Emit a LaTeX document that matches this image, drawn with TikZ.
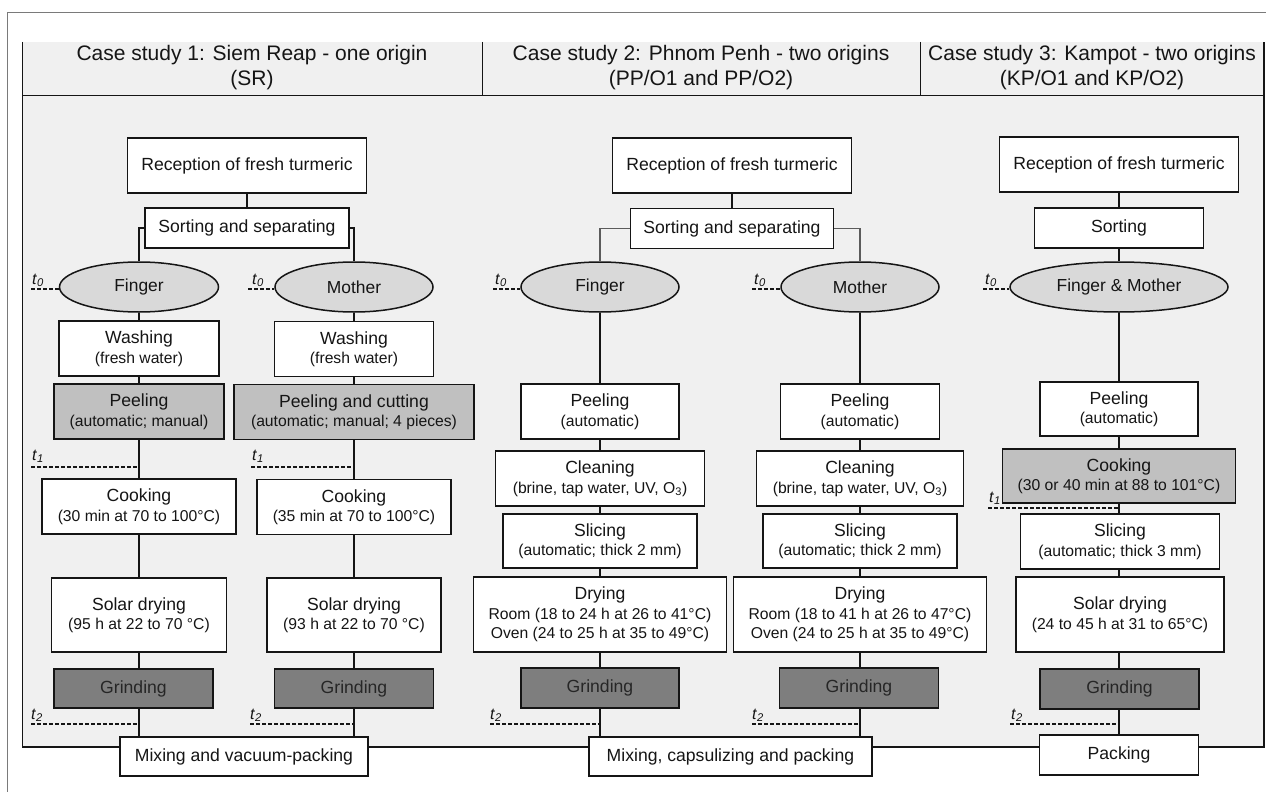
\documentclass[tikz,border=0pt]{standalone}
\usepackage{fontspec}
\setmainfont{Liberation Sans}
\usetikzlibrary{shapes.geometric}
\definecolor{panel}{HTML}{F0F0F0}
\definecolor{ellfill}{HTML}{D9D9D9}
\definecolor{lgray}{HTML}{C0C0C0}
\definecolor{dgray}{HTML}{7E7E7E}
\definecolor{ink}{HTML}{151515}
\definecolor{framegray}{HTML}{7A7A7A}
\newcommand\subt[1]{{\fontsize{15.7}{18}\selectfont #1}}
\newcommand\tlbl[1]{\textit{t}\textsubscript{\textit{#1}}}
\begin{document}
\begin{tikzpicture}[x=1pt,y=-1pt,
  box/.style={draw=ink, line width=1.5pt, fill=white, inner sep=0pt, align=center, text=ink, font=\fontsize{17.6}{19.5}\selectfont},
  gbox/.style={box, fill=lgray},
  grind/.style={box, fill=dgray, text=black!85},
  oval/.style={ellipse, draw=ink, line width=1.5pt, fill=ellfill, inner sep=0pt, text=ink, font=\fontsize{17.4}{19}\selectfont, minimum height=50pt},
  conn/.style={draw=ink, line width=1.4pt},
  tdash/.style={draw=ink, line width=1.2pt, dash pattern=on 4pt off 2pt},
  tlab/.style={inner sep=0pt, text=ink, anchor=base west, font=\fontsize{16}{16}\selectfont},
  head/.style={inner sep=0pt, align=center, text=ink, font=\fontsize{21}{25}\selectfont},
  sz/.style 2 args={minimum width=#1pt, minimum height=#2pt},
]
\useasboundingbox (0,0) rectangle (1266,792);
% outer frame
\draw[framegray, line width=1pt] (7,792) -- (7,13) -- (1266,13);
% panel
\fill[panel] (22,42) rectangle (1264,747);
\draw[ink, line width=1pt] (22,42) -- (22,747);
\draw[ink, line width=2pt] (22,747) -- (1264,747) -- (1264,42);
\draw[ink, line width=1pt] (22,95) -- (1264,95);
\draw[ink, line width=1pt] (482,42) -- (482,95);
\draw[ink, line width=1pt] (920,42) -- (920,95);
% headers
\node[head] (h1) at (252,68) {Case study 1: Siem Reap - one origin\\(SR)};
\node[head] (h2) at (701,68) {Case study 2: Phnom Penh - two origins\\(PP/O1 and PP/O2)};
\node[head] (h3) at (1092,68) {Case study 3: Kampot - two origins\\(KP/O1 and KP/O2)};

% ---------- Column 1 ----------
\node[box, sz={239}{55}] (r1) at (247,165.5) {Reception of fresh turmeric};
\node[box, sz={204}{40}] (s1) at (247,228) {Sorting and separating};
\node[oval, minimum width=159pt] (f1) at (139,287) {Finger};
\node[oval, minimum width=158pt] (m1) at (354,287) {Mother};
\node[box, sz={160}{55}] (w1a) at (139,348.5) {Washing\\\subt{(fresh water)}};
\node[box, sz={159}{55}] (w1b) at (354,349) {Washing\\\subt{(fresh water)}};
\node[gbox, sz={170}{55}] (p1a) at (139,411.5) {Peeling\\\subt{(automatic; manual)}};
\node[gbox, sz={240}{55}] (p1b) at (354,412) {Peeling and cutting\\\subt{(automatic; manual; 4 pieces)}};
\node[box, sz={194}{55}] (c1a) at (139,506.5) {Cooking\\\subt{(30 min at 70 to 100°C)}};
\node[box, sz={194}{55}] (c1b) at (354,507) {Cooking\\\subt{(35 min at 70 to 100°C)}};
\node[box, sz={175}{74}] (sd1a) at (139,615) {Solar drying\\\subt{(95 h at 22 to 70 °C)}};
\node[box, sz={174}{74}] (sd1b) at (354,615) {Solar drying\\\subt{(93 h at 22 to 70 °C)}};
\node[grind, sz={159}{39}] (g1a) at (133.5,688.5) {Grinding};
\node[grind, sz={159}{39}] (g1b) at (354,688.5) {Grinding};
\node[box, sz={248}{39}] (mix1) at (244,756.5) {Mixing and vacuum-packing};

\draw[conn] (r1) -- (s1);
\draw[conn] (s1.west) -| (f1.north);
\draw[conn] (s1.east) -| (m1.north);
\draw[conn] (f1) -- (w1a);
\draw[conn] (w1a) -- (p1a);
\draw[conn] (p1a) -- (c1a);
\draw[conn] (c1a) -- (sd1a);
\draw[conn] (sd1a.south) -- (sd1a.south |- g1a.north);
\draw[conn] (g1a.south -| sd1a.south) -- (mix1.north -| sd1a.south);
\draw[conn] (m1) -- (w1b);
\draw[conn] (w1b) -- (p1b);
\draw[conn] (p1b) -- (c1b);
\draw[conn] (c1b) -- (sd1b);
\draw[conn] (sd1b) -- (g1b);
\draw[conn] (g1b.south) -- (mix1.north -| g1b.south);

% time marks col 1
\coordinate (t0a) at (31,289);
\coordinate (t0b) at (248,289);
\coordinate (t1a) at (31,467);
\coordinate (t1b) at (251,467);
\coordinate (t2a) at (31,724);
\coordinate (t2b) at (250,724);
\draw[tdash] (t0a) -- (t0a -| f1.west);
\draw[tdash] (t0b) -- (t0b -| m1.west);
\draw[tdash] (t1a) -- (t1a -| c1a.north);
\draw[tdash] (t1b) -- (t1b -| c1b.north);
\draw[tdash] (t2a) -- (t2a -| sd1a.south);
\draw[tdash] (t2b) -- (t2b -| g1b.south);
\node[tlab] (lt0a) at (32,284) {\tlbl{0}};
\node[tlab] (lt0b) at (252,284) {\tlbl{0}};
\node[tlab] (lt1a) at (32,460) {\tlbl{1}};
\node[tlab] (lt1b) at (252,460) {\tlbl{1}};
\node[tlab] (lt2a) at (31,719) {\tlbl{2}};
\node[tlab] (lt2b) at (250,719) {\tlbl{2}};

% ---------- Column 2 ----------
\node[box, sz={239}{55}] (r2) at (732,165.5) {Reception of fresh turmeric};
\node[box, sz={203}{40}] (s2) at (732,228.5) {Sorting and separating};
\node[oval, minimum width=158pt] (f2) at (600,287) {Finger};
\node[oval, minimum width=158pt] (m2) at (860,287) {Mother};
\node[box, sz={158}{55}] (pe2a) at (600,411.5) {Peeling\\\subt{(automatic)}};
\node[box, sz={159}{55}] (pe2b) at (860,411.5) {Peeling\\\subt{(automatic)}};
\node[box, sz={209}{55}] (cl2a) at (600,478.5) {Cleaning\\\subt{(brine, tap water, UV, O\textsubscript{3})}};
\node[box, sz={207}{55}] (cl2b) at (860,478.5) {Cleaning\\\subt{(brine, tap water, UV, O\textsubscript{3})}};
\node[box, sz={194}{54}] (sl2a) at (600,541) {Slicing\\\subt{(automatic; thick 2 mm)}};
\node[box, sz={194}{54}] (sl2b) at (860,541) {Slicing\\\subt{(automatic; thick 2 mm)}};
\node[box, sz={253}{75}] (d2a) at (600,614.5) {Drying\\\subt{Room (18 to 24 h at 26 to 41°C)}\\\subt{Oven (24 to 25 h at 35 to 49°C)}};
\node[box, sz={253}{75}] (d2b) at (860,614.5) {Drying\\\subt{Room (18 to 41 h at 26 to 47°C)}\\\subt{Oven (24 to 25 h at 35 to 49°C)}};
\node[grind, sz={158}{40}] (g2a) at (600,688) {Grinding};
\node[grind, sz={159}{40}] (g2b) at (859,688) {Grinding};
\node[box, sz={283}{39}] (mix2) at (730.5,756.5) {Mixing, capsulizing and packing};

\draw[conn] (r2) -- (s2);
\draw[draw=ink!70, line width=1.1pt] (s2.west) -| (f2.north);
\draw[draw=ink!70, line width=1.1pt] (s2.east) -| (m2.north);
\draw[conn] (f2) -- (pe2a);
\draw[conn] (pe2a) -- (cl2a);
\draw[conn] (cl2a) -- (sl2a);
\draw[conn] (sl2a) -- (d2a);
\draw[conn] (d2a) -- (g2a);
\draw[conn] (g2a.south) -- (mix2.north -| g2a.south);
\draw[conn] (m2) -- (pe2b);
\draw[conn] (pe2b) -- (cl2b);
\draw[conn] (cl2b) -- (sl2b);
\draw[conn] (sl2b) -- (d2b);
\draw[conn] (d2b.south) -- (d2b.south |- g2b.north);
\draw[conn] (g2b.south -| d2b.south) -- (mix2.north -| d2b.south);

\coordinate (t0c) at (493,289);
\coordinate (t0d) at (752,289);
\coordinate (t2c) at (490,724);
\coordinate (t2d) at (752,724);
\draw[tdash] (t0c) -- (t0c -| f2.west);
\draw[tdash] (t0d) -- (t0d -| m2.west);
\draw[tdash] (t2c) -- (t2c -| g2a.south);
\draw[tdash] (t2d) -- (t2d -| d2b.south);
\node[tlab] (lt0c) at (495,284) {\tlbl{0}};
\node[tlab] (lt0d) at (754,284) {\tlbl{0}};
\node[tlab] (lt2c) at (490,719) {\tlbl{2}};
\node[tlab] (lt2d) at (752,719) {\tlbl{2}};

% ---------- Column 3 ----------
\node[box, sz={239}{55}] (r3) at (1119,164.5) {Reception of fresh turmeric};
\node[box, sz={169}{40}] (s3) at (1119,228) {Sorting};
\node[oval, minimum width=218pt] (e3) at (1119,287) {Finger \& Mother};
\node[box, sz={158}{54}] (pe3) at (1119,409) {Peeling\\\subt{(automatic)}};
\node[gbox, sz={233}{54}] (co3) at (1119,476) {Cooking\\\subt{(30 or 40 min at 88 to 101°C)}};
\node[box, sz={199}{55}] (sl3) at (1120,541.5) {Slicing\\\subt{(automatic; thick 3 mm)}};
\node[box, sz={208}{75}] (sd3) at (1120,614.5) {Solar drying\\\subt{(24 to 45 h at 31 to 65°C)}};
\node[grind, sz={159}{40}] (g3) at (1119.5,689) {Grinding};
\node[box, sz={159}{40}] (pk3) at (1119,755) {Packing};

\draw[conn] (r3) -- (s3);
\draw[conn] (s3) -- (e3);
\draw[conn] (e3) -- (pe3);
\draw[conn] (pe3) -- (co3);
\draw[conn] (co3.south) -- (co3.south |- sl3.north);
\draw[conn] (sl3.south -| co3.south) -- (sd3.north -| co3.south);
\draw[conn] (sd3.south -| co3.south) -- (g3.north -| co3.south);
\draw[conn] (g3.south -| co3.south) -- (pk3.north -| co3.south);

\coordinate (t0e) at (983,289);
\coordinate (t1e) at (988,508);
\coordinate (t2e) at (1010,724);
\draw[tdash] (t0e) -- (t0e -| e3.west);
\draw[tdash] (t1e) -- (t1e -| co3.south);
\draw[tdash] (t2e) -- (t2e -| co3.south);
\node[tlab] (lt0e) at (985,284) {\tlbl{0}};
\node[tlab] (lt1e) at (989,502) {\tlbl{1}};
\node[tlab] (lt2e) at (1011,719) {\tlbl{2}};
\end{tikzpicture}
\end{document}
